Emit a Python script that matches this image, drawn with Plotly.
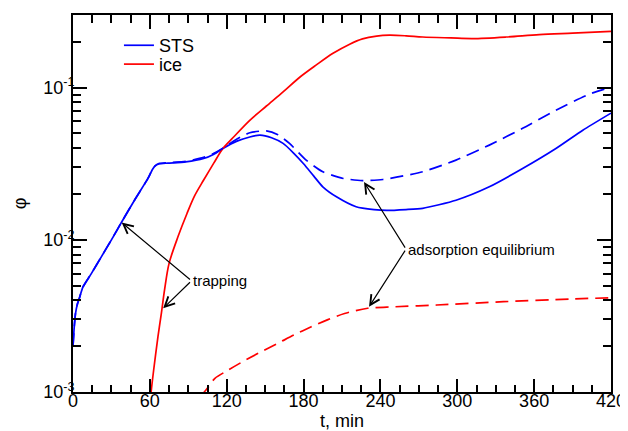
import numpy as np
import plotly.graph_objects as go

# ---------------- data ----------------
sts_t = [0, 1, 2, 3.5, 5.2, 7.8, 14.3, 22, 30, 38, 48, 58.5, 62, 64, 67, 74, 88, 102, 110, 117,
         128, 138, 146, 155, 164, 172, 180, 188, 195, 206, 221, 235, 245, 260, 273, 299, 325,
         351, 377, 398, 420]
sts_phi = [0.0020, 0.0027, 0.0033, 0.0038, 0.0042, 0.0049, 0.0060, 0.0077, 0.0100, 0.0131,
           0.0182, 0.0253, 0.0290, 0.0305, 0.0315, 0.0319, 0.0325, 0.0342, 0.0365, 0.0398,
           0.0445, 0.0474, 0.0487, 0.0468, 0.0430, 0.0373, 0.0316, 0.0262, 0.0223, 0.0191,
           0.0165, 0.0158, 0.0156, 0.0158, 0.0161, 0.0182, 0.0223, 0.0294, 0.0398, 0.0525,
           0.0680]

sts_eq_t = [0, 1, 2, 3.5, 5.2, 7.8, 14.3, 22, 30, 38, 48, 58.5, 62, 64, 67, 74, 88, 102, 110,
            117, 128, 138, 151, 160, 169, 182, 195, 211, 226, 242, 273, 299, 325, 351, 377,
            403, 420]
sts_eq_phi = [0.0020, 0.0027, 0.0033, 0.0038, 0.0042, 0.0049, 0.0060, 0.0077, 0.0100, 0.0131,
              0.0182, 0.0253, 0.0290, 0.0306, 0.0317, 0.0321, 0.0328, 0.0348, 0.0370, 0.0400,
              0.0460, 0.0505, 0.0520, 0.0490, 0.0430, 0.0334, 0.0280, 0.0253, 0.0245, 0.0249,
              0.0280, 0.0334, 0.0419, 0.0540, 0.0711, 0.0905, 0.1010]

ice_t = [60, 61, 63, 66.3, 69, 71.5, 75, 82, 89, 95, 102, 110, 117, 125, 138, 151, 164, 177,
         190, 203, 216, 226, 237, 247, 260, 273, 295, 312, 338, 364, 390, 420]
ice_phi = [0.0008, 0.0010, 0.0014, 0.0023, 0.0033, 0.0047, 0.0070, 0.0105, 0.0149, 0.0195,
           0.0247, 0.0320, 0.0398, 0.0470, 0.0610, 0.0757, 0.0937, 0.117, 0.141, 0.168,
           0.193, 0.209, 0.218, 0.221, 0.219, 0.215, 0.212, 0.210, 0.215, 0.223, 0.228, 0.234]

ice_eq_t = [100, 102.5, 105, 110.8, 121, 134, 147, 160, 173, 186, 199, 212, 230, 251, 284,
            336, 388, 420]
ice_eq_phi = [0.00093, 0.00100, 0.00106, 0.00123, 0.00139, 0.00161, 0.00184, 0.00209,
              0.00238, 0.00268, 0.00299, 0.00328, 0.00355, 0.00363, 0.00373, 0.00392,
              0.00408, 0.00416]

x_ticks = [0, 60, 120, 180, 240, 300, 360, 420]
x_minor = [t for t in range(15, 420, 15) if t % 60 != 0]
y_ticks = [0.001, 0.01, 0.1]
y_ticktext = ["10<sup>-3</sup>", "10<sup>-2</sup>", "10<sup>-1</sup>"]
y_minor = [m * d for d in (0.001, 0.01) for m in range(2, 10)] + [0.2]

# annotation anchor points (t, phi)
trap_text = (92.5, 0.00538)
trap_heads = [(38.0, 0.0130), (70.4, 0.00355)]
ads_text = (260.0, 0.00869)
ads_heads = [(227.2, 0.0240), (231.1, 0.00363)]

FONT = "Liberation Sans, Arial, sans-serif"
BLUE = "#0000FF"
RED = "#FF0000"
LW = 1.7
X_RANGE = [0, 420]
Y_RANGE = [-3, float(np.log10(0.3))]

fig = go.Figure()
fig.add_trace(go.Scatter(x=sts_t, y=sts_phi, mode="lines", name="STS", legend="legend",
                         line=dict(color=BLUE, width=LW, shape="spline", smoothing=0.6)))
fig.add_trace(go.Scatter(x=ice_t, y=ice_phi, mode="lines", name="ice", legend="legend2",
                         line=dict(color=RED, width=LW, shape="spline", smoothing=0.9)))
fig.add_trace(go.Scatter(x=sts_eq_t, y=sts_eq_phi, mode="lines", showlegend=False,
                         line=dict(color=BLUE, width=LW, dash="13px,7px", shape="spline",
                                   smoothing=0.6)))
# this series lives on the overlaid (identical-range) axes that carry the top/right ticks
fig.add_trace(go.Scatter(x=ice_eq_t, y=ice_eq_phi, mode="lines", showlegend=False,
                         xaxis="x2", yaxis="y2",
                         line=dict(color=RED, width=LW, dash="13px,7px", shape="spline",
                                   smoothing=0.8)))

annotations = []
for (tx, ty), heads in ((trap_text, trap_heads), (ads_text, ads_heads)):
    for hx, hy in heads:
        annotations.append(dict(
            x=hx, y=np.log10(hy), xref="x", yref="y",
            ax=tx, ay=np.log10(ty), axref="x", ayref="y",
            text="", showarrow=True, arrowhead=5, arrowsize=1.6,
            arrowwidth=1.2, arrowcolor="black", standoff=0, startstandoff=0))
annotations.append(dict(x=trap_text[0], y=np.log10(trap_text[1]), xref="x", yref="y",
                        text="trapping", showarrow=False, xanchor="left", yanchor="middle",
                        font=dict(family=FONT, size=15, color="black")))
annotations.append(dict(x=ads_text[0], y=np.log10(ads_text[1]), xref="x", yref="y",
                        text="adsorption equilibrium", showarrow=False, xanchor="left",
                        yanchor="middle", font=dict(family=FONT, size=15, color="black")))

legend_common = dict(xanchor="left", yanchor="top", bgcolor="rgba(0,0,0,0)", borderwidth=0,
                     font=dict(family=FONT, size=18, color="black"))

tick_common = dict(ticks="inside", tickwidth=2, tickcolor="black", showgrid=False,
                   zeroline=False, automargin=False)
x_minor_cfg = dict(tickmode="array", tickvals=x_minor, ticks="inside", ticklen=7,
                   tickwidth=1.6, tickcolor="black", showgrid=False)
y_minor_cfg = dict(tickmode="array", tickvals=y_minor, ticks="inside", ticklen=8,
                   tickwidth=1.6, tickcolor="black", showgrid=False)

# the page adds an 8px body margin, so the figure is 8px smaller than the window
fig.update_layout(
    width=620, height=423,
    margin=dict(l=65, r=17, t=7, b=39, autoexpand=False),
    paper_bgcolor="white", plot_bgcolor="white",
    font=dict(family=FONT, size=18, color="black"),
    showlegend=True,
    legend=dict(x=0.0854, y=0.968, **legend_common),
    legend2=dict(x=0.0854, y=0.918, **legend_common),
    annotations=annotations,
    xaxis=dict(
        range=X_RANGE, tickmode="array", tickvals=x_ticks, ticklen=13,
        showline=True, linecolor="black", linewidth=2, mirror="allticks",
        tickfont=dict(family=FONT, size=18), ticklabelstandoff=-9,
        ticklabeloverflow="allow", minor=x_minor_cfg,
        title=dict(text="t, min", standoff=13, font=dict(family=FONT, size=18)),
        **tick_common,
    ),
    xaxis2=dict(
        visible=True, range=X_RANGE, overlaying="x", side="top", anchor="free",
        position=1.0,
        tickmode="array", tickvals=x_ticks, ticklen=13, showticklabels=False,
        showline=False, minor=x_minor_cfg,
        **tick_common,
    ),
    yaxis=dict(
        type="log", range=Y_RANGE,
        tickmode="array", tickvals=y_ticks, ticktext=y_ticktext, ticklen=14,
        showline=True, linecolor="black", linewidth=2, mirror="allticks",
        tickfont=dict(family=FONT, size=18), ticklabelstandoff=-7,
        ticklabeloverflow="allow", minor=y_minor_cfg,
        title=dict(text="φ", standoff=12, font=dict(family=FONT, size=18)),
        **tick_common,
    ),
    yaxis2=dict(
        visible=True, type="log", range=Y_RANGE, overlaying="y", side="right",
        anchor="free", position=1.0,
        tickmode="array", tickvals=y_ticks, ticklen=14, showticklabels=False,
        showline=False, minor=y_minor_cfg,
        **tick_common,
    ),
)

fig.write_html("out.html")
